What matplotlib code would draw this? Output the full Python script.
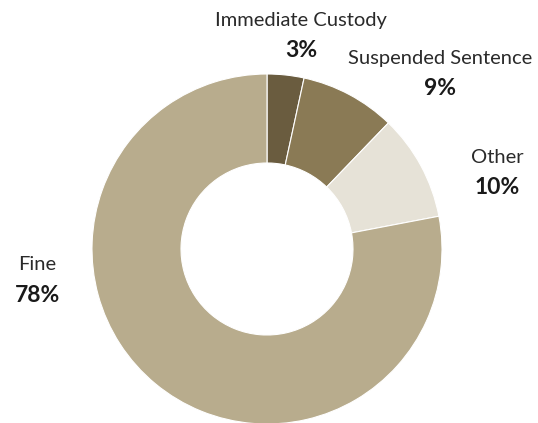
import matplotlib
matplotlib.use("Agg")
import matplotlib.pyplot as plt

categories = ["Immediate Custody", "Suspended Sentence", "Other", "Fine"]
values = [3.4, 8.8, 9.8, 78.0]
pct_labels = ["3%", "9%", "10%", "78%"]
colors = ["#6A5C3F", "#8A7A55", "#E6E2D7", "#B8AC8D"]

W, H = 538, 423
fig = plt.figure(figsize=(W / 100, H / 100), dpi=100)
ax = fig.add_axes([0, 0, 1, 1])
ax.set_xlim(0, W)
ax.set_ylim(0, H)
ax.set_aspect("equal")
ax.axis("off")

cx, cy, R = 267, H - 249, 175
ax.pie(values, colors=colors, startangle=90, counterclock=False,
       center=(cx, cy), radius=R,
       wedgeprops=dict(width=R - 86, edgecolor="white", linewidth=0.8))
ax.set_xlim(0, W)
ax.set_ylim(0, H)

label_pos = [(301, 20), (440, 58), (497, 157), (37, 265)]
fam = ["Lato", "DejaVu Sans"]
for cat, pct, (x, y) in zip(categories, pct_labels, label_pos):
    ax.text(x, H - y, cat, ha="center", va="center", fontsize=14.5,
            color="#2a2a2a", family=fam)
    ax.text(x, H - (y + 30), pct, ha="center", va="center", fontsize=16.5,
            fontweight="bold", color="#1a1a1a", family=fam)

fig.savefig("out.png", dpi=100)
